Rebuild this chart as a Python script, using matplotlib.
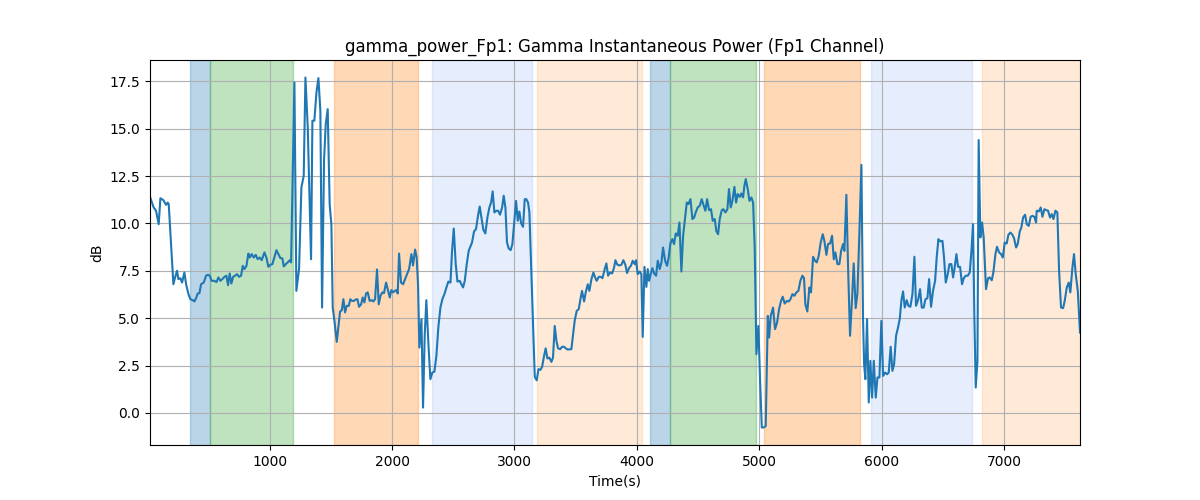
import numpy as np
import matplotlib
matplotlib.use("Agg")
import matplotlib.pyplot as plt

# Gamma power trace (time in s, power in dB)
time_s = [
    22, 52, 71, 93, 107, 131, 153, 167, 175, 194, 213, 227, 243, 254, 270, 284,
    303, 317, 336, 352, 371, 385, 398, 412, 426, 439, 461, 480, 494, 510, 526, 548,
    565, 581, 597, 613, 630, 646, 660, 673, 687, 701, 717, 733, 750, 766, 780, 793,
    810, 826, 837, 853, 870, 886, 902, 919, 935, 957, 973, 989, 1006, 1022, 1038, 1055,
    1071, 1087, 1104, 1115, 1131, 1147, 1164, 1175, 1202, 1218, 1240, 1259, 1278, 1292,
    1311, 1338, 1349, 1365, 1382, 1398, 1414, 1428, 1444, 1458, 1474, 1490, 1504, 1515,
    1529, 1548, 1564, 1575, 1589, 1602, 1616, 1629, 1646, 1659, 1673, 1687, 1703, 1717,
    1730, 1747, 1760, 1774, 1787, 1801, 1817, 1834, 1847, 1861, 1877, 1891, 1905, 1921,
    1934, 1951, 1964, 1981, 1994, 2008, 2022, 2035, 2046, 2057, 2073, 2090, 2106, 2122,
    2139, 2158, 2171, 2188, 2201, 2212, 2223, 2240, 2253, 2267, 2280, 2297, 2313, 2329,
    2346, 2362, 2378, 2395, 2411, 2428, 2444, 2460, 2477, 2490, 2504, 2520, 2534, 2553,
    2566, 2580, 2594, 2610, 2626, 2643, 2653, 2670, 2686, 2702, 2716, 2730, 2746, 2762,
    2779, 2795, 2809, 2822, 2836, 2852, 2866, 2882, 2899, 2912, 2926, 2939, 2953, 2969,
    2983, 2997, 3013, 3027, 3040, 3054, 3070, 3084, 3097, 3111, 3122, 3166, 3182, 3196,
    3212, 3226, 3242, 3255, 3269, 3285, 3302, 3315, 3329, 3343, 3356, 3373, 3389, 3405,
    3419, 3435, 3452, 3465, 3479, 3492, 3509, 3525, 3539, 3552, 3569, 3582, 3599, 3612,
    3629, 3645, 3659, 3672, 3689, 3705, 3719, 3735, 3751, 3765, 3781, 3798, 3814, 3825,
    3841, 3857, 3874, 3890, 3906, 3920, 3936, 3953, 3966, 3983, 3993, 4007, 4023, 4037,
    4048, 4062, 4078, 4089, 4100, 4113, 4127, 4141, 4157, 4171, 4187, 4201, 4214, 4231,
    4247, 4260, 4274, 4290, 4304, 4318, 4334, 4348, 4364, 4378, 4394, 4408, 4421, 4438,
    4454, 4468, 4481, 4497, 4514, 4530, 4544, 4560, 4574, 4590, 4606, 4620, 4636, 4650,
    4664, 4677, 4694, 4707, 4724, 4740, 4753, 4767, 4781, 4797, 4811, 4824, 4841, 4854,
    4868, 4879, 4890, 4906, 4920, 4936, 4950, 4963, 4977, 4993, 5007, 5021, 5037, 5053,
    5070, 5081, 5094, 5113, 5129, 5146, 5162, 5178, 5192, 5208, 5225, 5241, 5255, 5271,
    5287, 5304, 5320, 5336, 5353, 5366, 5377, 5393, 5410, 5423, 5440, 5456, 5470, 5486,
    5502, 5519, 5532, 5549, 5562, 5579, 5595, 5609, 5622, 5639, 5655, 5669, 5685, 5696,
    5712, 5726, 5742, 5759, 5772, 5788, 5802, 5818, 5835, 5848, 5857, 5867, 5881, 5895,
    5908, 5922, 5936, 5952, 5966, 5982, 5998, 6012, 6028, 6045, 6058, 6074, 6088, 6102,
    6118, 6134, 6148, 6162, 6175, 6189, 6205, 6219, 6235, 6252, 6268, 6281, 6298, 6314,
    6328, 6344, 6358, 6374, 6388, 6404, 6420, 6437, 6450, 6464, 6480, 6497, 6510, 6524,
    6540, 6554, 6570, 6584, 6597, 6611, 6625, 6641, 6657, 6671, 6687, 6704, 6720, 6734,
    6747, 6758, 6769, 6783, 6793, 6807, 6821, 6834, 6853, 6870, 6883, 6900, 6913, 6930,
    6943, 6960, 6976, 6990, 7006, 7022, 7036, 7052, 7069, 7082, 7099, 7112, 7129, 7142,
    7156, 7172, 7186, 7202, 7218, 7232, 7248, 7262, 7267, 7284, 7300, 7314, 7330, 7346,
    7360, 7376, 7390, 7404, 7420, 7436, 7450, 7466, 7483, 7496, 7513, 7529, 7542, 7559,
    7572, 7586, 7603, 7621,
]
power_db = [
    11.40, 10.84, 10.67, 9.96, 11.33, 11.23, 10.98, 11.10, 11.02, 8.90, 6.79, 7.15, 7.50, 7.06, 7.11, 6.88,
    7.41, 6.79, 6.27, 6.00, 5.95, 5.88, 6.05, 6.30, 6.32, 6.79, 6.88, 7.24, 7.29, 7.24, 6.97, 6.97,
    6.90, 7.15, 6.97, 7.06, 7.18, 7.24, 6.74, 7.36, 6.83, 7.18, 7.24, 7.32, 7.18, 7.24, 7.76, 7.59,
    7.76, 8.41, 8.20, 8.38, 8.20, 8.34, 8.11, 8.20, 8.06, 8.47, 8.20, 7.71, 7.82, 7.85, 8.20, 8.59,
    8.38, 8.17, 8.15, 7.73, 7.85, 7.94, 8.06, 7.94, 17.44, 6.44, 7.60, 11.90, 12.51, 17.70,
    15.07, 8.11, 15.42, 15.42, 16.91, 17.67, 15.95, 5.56, 13.31, 15.24, 16.03, 11.02, 9.96, 5.56,
    4.86, 3.75, 4.68, 5.35, 5.42, 6.00, 5.30, 5.65, 5.65, 6.00, 5.91, 5.91, 5.98, 6.00,
    5.60, 5.73, 6.09, 5.83, 6.30, 6.36, 5.91, 5.95, 5.88, 6.00, 7.57, 5.73, 6.18, 6.36,
    6.32, 6.88, 6.53, 6.09, 6.48, 6.36, 6.44, 6.48, 6.30, 8.41, 6.88, 6.79, 7.06, 7.32,
    7.59, 8.38, 7.78, 8.62, 8.20, 6.79, 3.45, 4.95, 0.28, 4.15, 5.95, 3.63, 1.78, 2.13,
    2.18, 3.01, 4.51, 5.56, 6.00, 6.27, 6.62, 6.93, 6.88, 8.55, 9.73, 7.85, 6.93, 6.97,
    6.79, 6.62, 6.97, 7.85, 8.55, 8.82, 8.99, 9.58, 9.70, 10.40, 10.89, 10.31, 9.66, 9.47,
    10.31, 10.84, 11.10, 11.69, 10.58, 10.67, 10.67, 10.46, 10.84, 11.46, 10.84, 8.99, 8.68, 8.59,
    8.91, 9.96, 11.19, 10.14, 10.63, 10.01, 9.82, 11.28, 11.28, 11.10, 10.58, 1.90, 1.72, 2.31,
    2.27, 2.43, 3.01, 3.41, 2.87, 2.92, 2.69, 2.92, 4.59, 3.80, 3.41, 3.36, 3.49, 3.49,
    3.41, 3.34, 3.36, 3.36, 4.15, 4.86, 5.39, 5.47, 6.00, 6.44, 5.88, 6.36, 6.79, 6.44,
    7.06, 7.41, 7.15, 6.97, 7.18, 7.18, 7.11, 7.53, 7.89, 7.24, 7.41, 7.36, 7.67, 8.06,
    7.82, 7.78, 7.82, 8.06, 7.82, 7.38, 7.64, 7.78, 8.03, 7.85, 8.06, 7.32, 7.46, 7.32,
    4.01, 7.71, 6.65, 7.59, 6.97, 7.32, 7.64, 7.36, 7.24, 8.03, 7.59, 7.94, 8.73, 8.03,
    7.76, 8.20, 8.94, 9.17, 8.91, 9.47, 9.35, 10.05, 7.46, 9.35, 10.31, 11.10, 11.02, 11.28,
    10.23, 10.31, 10.58, 10.84, 10.93, 11.28, 10.98, 10.67, 11.28, 10.70, 10.75, 10.14, 10.23, 9.58,
    9.43, 10.23, 10.70, 10.75, 10.58, 10.75, 11.81, 10.84, 11.19, 11.93, 11.10, 11.55, 11.40, 11.58,
    11.37, 11.99, 12.34, 11.81, 11.19, 11.37, 11.10, 8.73, 3.10, 4.59, 1.69, -0.77, -0.77, -0.69,
    5.12, 3.98, 5.12, 5.56, 4.42, 4.77, 5.47, 5.91, 6.13, 5.77, 5.91, 5.88, 6.00, 6.27,
    6.18, 6.36, 6.44, 6.97, 7.24, 7.11, 5.73, 5.35, 6.62, 6.36, 8.24, 8.03, 7.94, 8.29,
    8.99, 9.43, 9.08, 8.34, 8.91, 8.94, 9.35, 8.11, 8.47, 7.85, 7.85, 8.55, 8.91, 8.55,
    11.51, 7.67, 4.07, 6.09, 7.89, 5.53, 6.27, 9.43, 13.09, 5.03, 2.57, 1.78, 4.95, 0.55,
    2.75, 0.81, 2.75, 0.81, 1.87, 1.87, 4.86, 1.95, 2.13, 2.04, 2.13, 3.49, 2.22, 2.57,
    4.07, 4.51, 4.95, 5.95, 6.41, 5.56, 5.95, 5.65, 5.60, 6.27, 8.24, 5.65, 5.95, 6.53,
    5.56, 5.56, 6.00, 6.05, 7.06, 5.60, 6.44, 6.97, 8.20, 9.17, 9.05, 9.08, 8.20, 6.88,
    7.32, 7.85, 7.85, 7.15, 7.67, 8.38, 7.71, 7.71, 6.79, 7.11, 7.24, 7.24, 7.41, 8.55,
    9.96, 5.03, 1.34, 2.75, 14.40, 9.26, 10.05, 9.26, 6.53, 7.11, 7.15, 7.00, 7.41, 8.38,
    8.77, 8.47, 8.38, 8.20, 8.99, 8.94, 9.40, 9.52, 9.40, 9.22, 8.73, 8.91, 9.58, 9.79,
    10.31, 10.46, 9.96, 9.87, 10.35, 10.40, 10.35, 10.05, 10.67, 10.63, 10.84, 10.35, 10.75, 10.70,
    10.67, 10.31, 10.49, 10.23, 10.67, 10.58, 7.50, 5.56, 5.53, 5.91, 6.62, 6.88, 6.36, 7.67,
    8.38, 7.32, 6.44, 4.24,
]

# Shaded task segments
span_start = [346, 510, 1524, 2324, 3188, 4105, 4271, 5037, 5911, 6817]
span_end = [510, 1188, 2215, 3141, 4046, 4271, 4977, 5827, 6739, 7700]
span_color = ["tab:blue", "tab:green", "tab:orange", "cornflowerblue", "tab:orange",
              "tab:blue", "tab:green", "tab:orange", "cornflowerblue", "tab:orange"]
span_alpha = [0.3, 0.3, 0.3, 0.16, 0.16, 0.3, 0.3, 0.3, 0.16, 0.16]

fig, ax = plt.subplots(figsize=(12, 5), dpi=100)

for s, e, c, a in zip(span_start, span_end, span_color, span_alpha):
    ax.axvspan(s, e, color=c, alpha=a)

ax.plot(time_s, power_db, color="tab:blue", linewidth=1.5)

ax.set_xlim(time_s[0], time_s[-1])
ax.set_title("gamma_power_Fp1: Gamma Instantaneous Power (Fp1 Channel)")
ax.set_xlabel("Time(s)")
ax.set_ylabel("dB")
ax.grid(True)

fig.savefig("out.png")
